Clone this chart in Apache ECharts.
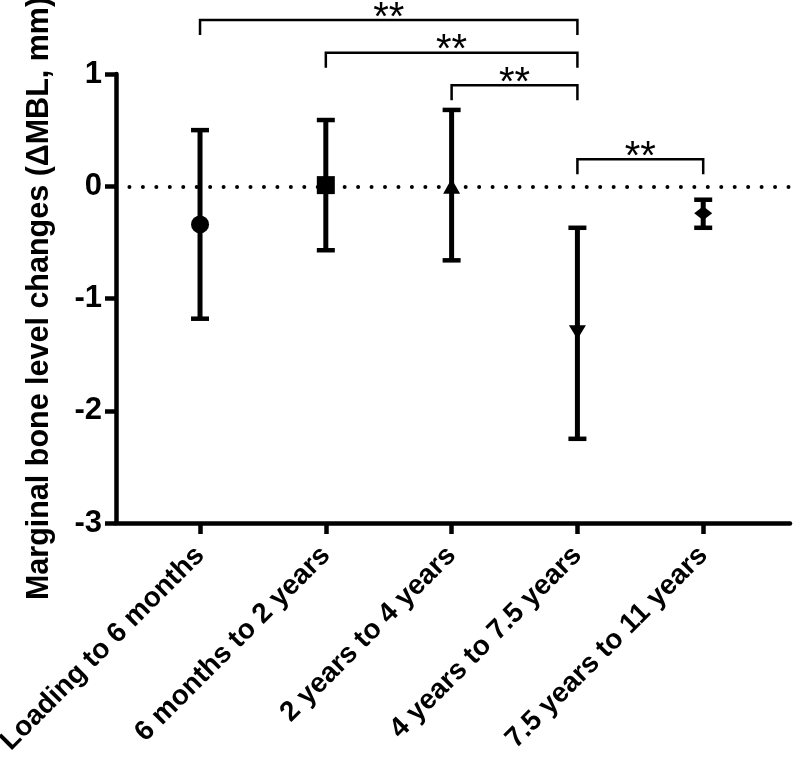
<!DOCTYPE html>
<html><head><meta charset="utf-8">
<script src="https://cdn.jsdelivr.net/npm/echarts@6/dist/echarts.min.js"></script>
<style>html,body{margin:0;padding:0;background:#fff}#c{width:794px;height:757px}</style>
</head><body><div id="c"></div>
<script>
const categories = ['Loading to 6 months', '6 months to 2 years', '2 years to 4 years', '4 years to 7.5 years', '7.5 years to 11 years'];
const means = [-0.34, 0.01, 0.0, -1.30, -0.24];
const upper = [0.50, 0.59, 0.68, -0.37, -0.12];
const lower = [-1.18, -0.57, -0.66, -2.25, -0.37];
const symbols = ['circle', 'rect', 'triangle', 'triangle', 'diamond'];
const symbolRotations = [0, 0, 0, 180, 0];
const symbolSizes = [[18, 18], [18, 18], [17, 15], [17, 14], [18, 14]];
const yTicks = [-3, -2, -1, 0, 1];
// significance brackets
const bracketFrom = [0, 1, 2, 3];
const bracketTo = [3, 3, 3, 4];
const bracketLevel = [1.48, 1.19, 0.90, 0.24];
const bracketLabel = ['**', '**', '**', '**'];

const FONT = 'Liberation Sans, Arial, Helvetica, sans-serif';
const catPos = categories.map((c, i) => i + 1);

const chart = echarts.init(document.getElementById('c'), null, {renderer: 'canvas'});
chart.setOption({
  animation: false,
  backgroundColor: '#fff',
  grid: {left: 116, right: 4, top: 74, bottom: 234, outerBoundsMode: 'none', containLabel: false},
  xAxis: {
    type: 'value', min: 0.332, max: 5.69,
    axisLine: {onZero: false, lineStyle: {color: '#000', width: 4.5}},
    axisTick: {show: true, customValues: catPos, length: 11, lineStyle: {color: '#000', width: 4.5}},
    axisLabel: {
      customValues: catPos, rotate: 45, margin: 28,
      formatter: v => categories[Math.round(v) - 1] || '',
      color: '#000', fontSize: 28, fontWeight: 'bold', fontFamily: FONT
    },
    splitLine: {show: false}
  },
  yAxis: {
    type: 'value', min: yTicks[0], max: yTicks[yTicks.length - 1], interval: 1,
    name: 'Marginal bone level changes (\u0394MBL, mm)',
    nameLocation: 'middle', nameRotate: 90, nameGap: 61,
    nameTextStyle: {color: '#000', fontSize: 30.5, fontWeight: 'bold', fontFamily: FONT},
    axisLine: {show: true, onZero: false, lineStyle: {color: '#000', width: 4.5}},
    axisTick: {show: true, length: 11, lineStyle: {color: '#000', width: 4.5}},
    axisLabel: {margin: 14, color: '#000', fontSize: 31, fontWeight: 'bold', fontFamily: FONT},
    splitLine: {show: false}
  },
  series: [
    {
      type: 'custom',
      name: 'errorbars',
      data: catPos.map((x, i) => [x, lower[i], upper[i]]),
      encode: {x: 0, y: [1, 2]},
      z: 3,
      renderItem: function (params, api) {
        const x = api.value(0);
        const pLo = api.coord([x, api.value(1)]);
        const pHi = api.coord([x, api.value(2)]);
        const cap = 9;
        const st = {stroke: '#000', lineWidth: 5};
        const cs = {stroke: '#000', lineWidth: 4.5};
        return {type: 'group', children: [
          {type: 'line', shape: {x1: pHi[0], y1: pHi[1], x2: pLo[0], y2: pLo[1]}, style: st},
          {type: 'line', shape: {x1: pHi[0] - cap, y1: pHi[1], x2: pHi[0] + cap, y2: pHi[1]}, style: cs},
          {type: 'line', shape: {x1: pLo[0] - cap, y1: pLo[1], x2: pLo[0] + cap, y2: pLo[1]}, style: cs}
        ]};
      }
    },
    {
      type: 'scatter',
      name: 'means',
      z: 4,
      data: catPos.map((x, i) => ({
        value: [x, means[i]],
        symbol: symbols[i],
        symbolRotate: symbolRotations[i],
        symbolSize: symbolSizes[i]
      })),
      itemStyle: {color: '#000', opacity: 1},
      markLine: {
        silent: true, symbol: ['none', 'none'], label: {show: false},
        lineStyle: {color: '#000', width: 4, type: [0, 13.45], cap: 'round'},
        data: [{yAxis: 0}]
      }
    },
    {
      type: 'custom',
      name: 'brackets',
      clip: false,
      z: 5,
      data: bracketFrom.map((f, i) => [catPos[f], catPos[bracketTo[i]], bracketLevel[i], i]),
      encode: {x: [0, 1], y: 2},
      renderItem: function (params, api) {
        const lvl = api.value(2);
        const p1 = api.coord([api.value(0), lvl]);
        const p2 = api.coord([api.value(1), lvl]);
        const leg = 15;
        const lab = bracketLabel[api.value(3)];
        return {type: 'group', children: [
          {type: 'polyline', shape: {points: [[p1[0], p1[1] + leg], [p1[0], p1[1]], [p2[0], p2[1]], [p2[0], p2[1] + leg]]},
           style: {stroke: '#000', lineWidth: 2.5, fill: null}},
          {type: 'text', style: {text: lab, x: (p1[0] + p2[0]) / 2, y: p1[1] - 1.5, align: 'center', verticalAlign: 'middle',
            fill: '#000', fontSize: 40, fontFamily: FONT}}
        ]};
      }
    }
  ]
});
</script></body></html>
